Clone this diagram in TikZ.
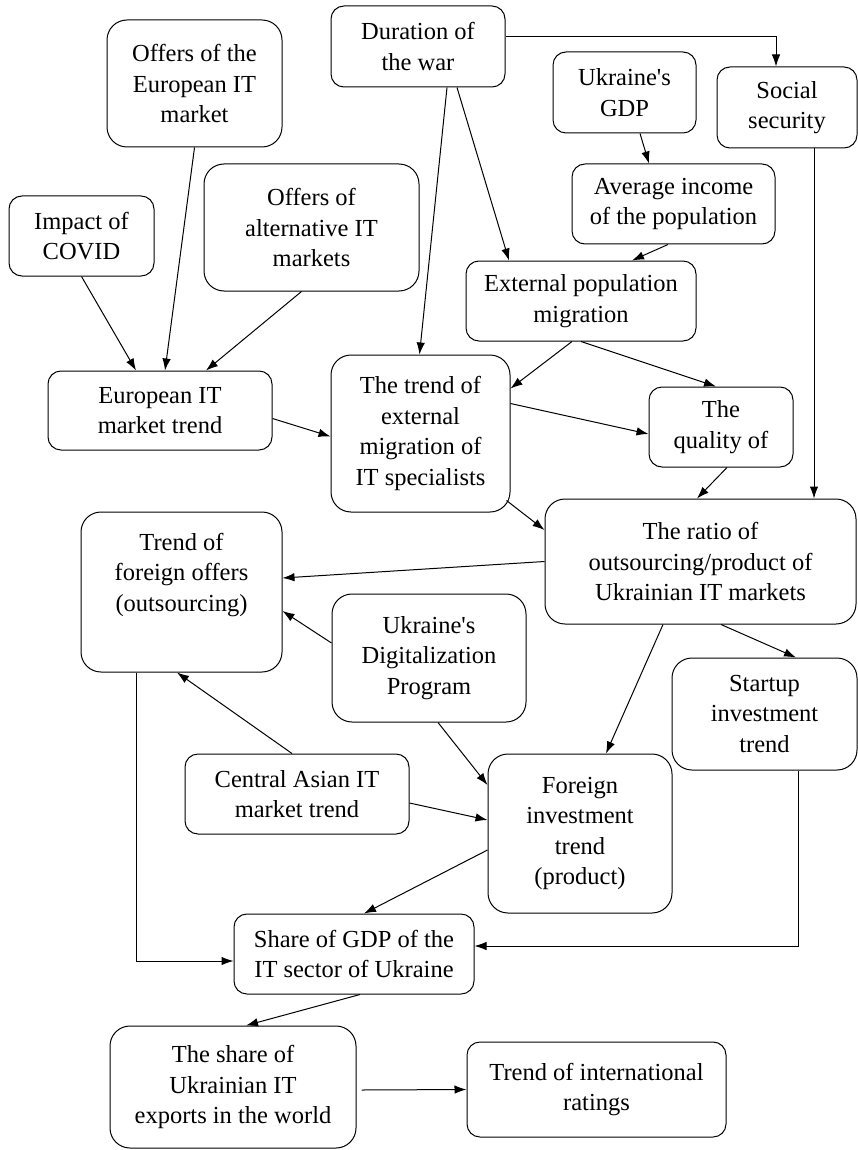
\documentclass[tikz,border=0pt]{standalone}
\usepackage{fontspec}
\setmainfont{Liberation Serif}
\usetikzlibrary{arrows.meta, positioning, calc}
\newcommand{\boxfont}{\fontsize{24.5}{30.5}\selectfont}
\newcommand{\ap}{\textquotesingle}

\begin{document}
\begin{tikzpicture}[x=1pt, y=-1pt, >={Latex[length=12pt, width=8.5pt]}, line width=1pt,
        box/.style={draw, rounded corners=13pt, align=center, inner sep=2pt, font=\boxfont},
        tallbox/.style={box, rounded corners=20pt}]
        \path[use as bounding box] (0, 0) rectangle (858, 1150);
        \node[tallbox, minimum width=175pt, minimum height=127pt] (offeu) at (194.5, 83.5) {Offers of the\\European IT\\market};
        \node[box, minimum width=145pt, minimum height=80pt] (covid) at (81.5, 236) {Impact of\\COVID};
        \node[tallbox, minimum width=215pt, minimum height=127pt] (offalt) at (311.5, 227.5) {Offers of\\alternative IT\\markets};
        \node[box, minimum width=224pt, minimum height=79pt] (eutrend) at (160, 410.5) {European IT\\market trend};
        \node[box, minimum width=174pt, minimum height=81pt] (war) at (418, 46.5) {Duration of\\the war};
        \node[box, minimum width=143pt, minimum height=81pt] (gdp) at (624.5, 92.5) {Ukraine\ap s\\GDP};
        \node[box, minimum width=140pt, minimum height=81pt] (social) at (787, 107.5) {Social\\security};
        \node[box, minimum width=203pt, minimum height=80pt] (income) at (673.5, 204) {Average income\\of the population};
        \node[box, minimum width=230pt, minimum height=80pt] (extmig) at (581, 301) {External population\\migration};
        \node[tallbox, minimum width=179pt, minimum height=157pt] (itmig) at (420.5, 433.5) {The trend of\\external\\migration of\\IT specialists};
        \node[box, minimum width=144pt, minimum height=80pt] (quality) at (721, 427) {The\\quality of};
        \node[tallbox, minimum width=311pt, minimum height=125pt] (ratio) at (700.5, 561.5) {The ratio of\\outsourcing/product of\\Ukrainian IT markets};
        \node[tallbox, minimum width=201pt, minimum height=160pt] (foreign) at (181.5, 592) {Trend of\\foreign offers\\(outsourcing)\\\strut};
        \node[tallbox, minimum width=194pt, minimum height=128pt] (digital) at (429, 658) {Ukraine\ap s\\Digitalization\\Program};
        \node[tallbox, minimum width=185pt, minimum height=112pt] (startup) at (764.5, 714) {Startup\\investment\\trend};
        \node[box, minimum width=224pt, minimum height=80pt] (asia) at (297, 794) {Central Asian IT\\market trend};
        \node[tallbox, minimum width=184pt, minimum height=159pt] (invest) at (580, 833.5) {Foreign\\investment\\trend\\(product)};
        \node[box, minimum width=240pt, minimum height=80pt] (share) at (354, 954) {Share of GDP of the\\IT sector of Ukraine};
        \node[tallbox, minimum width=246pt, minimum height=122pt] (exports) at (233, 1087) {The share of\\Ukrainian IT\\exports in the world};
        \node[box, minimum width=259pt, minimum height=95pt] (ratings) at (596.5, 1089.5) {Trend of international\\ratings};

        \draw[->] (covid.south) -- ([xshift=-24pt]eutrend.north);
        \draw[->] (offeu.south) -- ([xshift=5pt]eutrend.north);
        \draw[->] ([xshift=-10pt]offalt.south) -- ([xshift=46pt]eutrend.north);
        \draw[->] ([yshift=-8pt]eutrend.east) -- ([yshift=-3pt]itmig.west);
        \draw[->] ([xshift=29pt]war.south) -- ([xshift=-1pt]itmig.north);
        \draw[->] ([xshift=39pt]war.south) -- ([xshift=-72pt]extmig.north);
        \draw[->] ([yshift=10pt]war.east) -| ([xshift=-11pt]social.north);
        \draw[->] ([xshift=15.5pt]gdp.south) -- ([xshift=-24.5pt]income.north);
        \draw[->] ([xshift=-5.5pt]income.south) -- ([xshift=51pt]extmig.north);
        \draw[->] ([xshift=-9pt]extmig.south) -- ([yshift=45pt]itmig.east);
        \draw[->] (extmig.south) -- ([xshift=-5pt]quality.north);
        \draw[->] ([yshift=30pt]itmig.east) -- ([yshift=-7pt]quality.west);
        \draw[->] ([xshift=6pt]quality.south) -- ([xshift=-3.5pt]ratio.north);
        \draw[->] ([xshift=27pt]social.south) -- ([xshift=27pt]social.south |- ratio.north);
        \draw[->] ([xshift=-4pt, yshift=12pt]itmig.south east) -- ([yshift=31.5pt]ratio.west);
        \draw[->] (ratio.west) -- ([yshift=14pt]foreign.east);
        \draw[->] ([yshift=15pt]digital.west) -- ([yshift=-19pt]foreign.east);
        \draw[->] ([xshift=-5pt]asia.north) -- ([xshift=-4.5pt]foreign.south);
        \draw[->] ([xshift=9pt]digital.south) -- ([yshift=48.5pt]invest.west);
        \draw[->] ([yshift=-9pt]asia.east) -- ([yshift=13.5pt]invest.west);
        \draw[->] ([xshift=-37.5pt]ratio.south) -- ([xshift=26pt]invest.north);
        \draw[->] ([xshift=20.5pt]ratio.south) -- ([xshift=31.5pt]startup.north);
        \draw[->] ([yshift=-16.5pt]invest.west) -- ([xshift=10pt]share.north);
        \draw[->] ([xshift=33.5pt]startup.south) |- ([yshift=8pt]share.east);
        \draw[->] ([xshift=-45.5pt]foreign.south) |- ([yshift=-7pt]share.west);
        \draw[->] ([xshift=6pt]share.south) -- ([xshift=13pt]exports.north);
        \draw[->] ([xshift=5pt, yshift=-3pt]exports.east) -- (ratings.west);
    \end{tikzpicture}
\end{document}
